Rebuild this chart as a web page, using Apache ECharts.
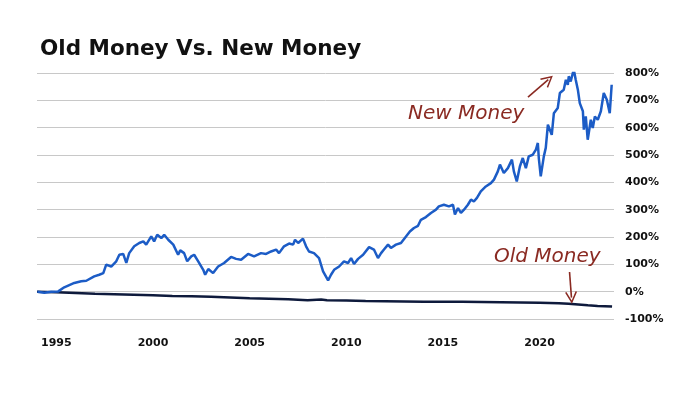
<!DOCTYPE html>
<html><head><meta charset="utf-8">
<script src="https://cdn.jsdelivr.net/npm/echarts@6/dist/echarts.min.js"></script>
<style>html,body{margin:0;padding:0;background:#fff}#c{width:700px;height:393px}</style>
</head><body><div id="c"></div>
<script>
const titleText = 'Old Money Vs. New Money';
const yTicks = [-100,0,100,200,300,400,500,600,700,800];
const xTickYears = [1995,2000,2005,2010,2015,2020];
const newMoneyYears = [1994.02,1994.38,1994.74,1995.10,1995.41,1995.67,1995.93,1996.29,1996.55,1996.65,1996.96,1997.22,1997.43,1997.58,1997.84,1998.10,1998.26,1998.46,1998.62,1998.77,1999.03,1999.29,1999.50,1999.65,1999.91,2000.06,2000.22,2000.43,2000.58,2000.79,2001.05,2001.30,2001.41,2001.61,2001.77,2001.98,2002.13,2002.34,2002.60,2002.70,2002.86,2003.11,2003.37,2003.68,2004.04,2004.30,2004.56,2004.92,2005.23,2005.59,2005.85,2006.11,2006.37,2006.52,2006.78,2007.04,2007.25,2007.35,2007.51,2007.76,2007.92,2008.07,2008.33,2008.59,2008.80,2008.90,2009.06,2009.21,2009.37,2009.63,2009.88,2010.09,2010.25,2010.40,2010.61,2010.87,2011.18,2011.43,2011.64,2011.80,2011.95,2012.16,2012.31,2012.57,2012.83,2013.09,2013.29,2013.50,2013.71,2013.86,2014.12,2014.38,2014.64,2014.79,2015.05,2015.31,2015.52,2015.62,2015.78,2015.93,2016.09,2016.29,2016.45,2016.60,2016.76,2016.96,2017.22,2017.48,2017.64,2017.84,2017.95,2018.15,2018.36,2018.57,2018.67,2018.82,2018.98,2019.13,2019.29,2019.44,2019.65,2019.81,2019.91,2019.96,2020.06,2020.22,2020.32,2020.43,2020.63,2020.74,2020.94,2021.05,2021.25,2021.36,2021.46,2021.51,2021.61,2021.72,2021.77,2021.87,2021.98,2022.08,2022.24,2022.29,2022.39,2022.49,2022.65,2022.75,2022.86,2023.01,2023.17,2023.32,2023.48,2023.63,2023.73];
const newMoneyValues = [0,-4,0,1,16,24,32,38,40,34,56,62,68,99,92,111,135,138,105,141,166,178,184,172,202,184,208,196,208,190,172,135,151,141,111,129,135,111,80,62,83,68,92,105,127,120,117,138,129,141,138,147,154,141,166,176,172,190,178,194,166,147,141,123,74,68,41,62,80,92,111,105,123,101,120,135,163,154,123,141,154,172,160,172,178,202,220,233,241,263,273,288,300,312,318,312,318,282,306,288,300,318,337,330,343,367,385,397,410,440,465,434,452,483,440,403,458,489,452,495,501,520,544,489,422,495,526,611,574,653,672,727,739,775,757,788,769,800,812,775,739,690,660,593,641,556,629,599,641,629,660,727,702,653,757];
const oldMoneyYears = [1994.0,1995,1996,1997,1998,1999,2000,2001,2002,2003,2004,2005,2006,2007,2008,2008.7,2009,2010,2011,2012,2013,2014,2015,2016,2017,2018,2019,2020,2021,2021.5,2022,2022.5,2023,2023.75];
const oldMoneyValues = [0,-2,-5,-8,-9,-11,-13,-16,-17,-19,-21,-24,-26,-28,-31,-29,-31,-32,-34,-35,-36,-37,-37,-37,-38,-39,-40,-41,-42,-44,-47,-50,-52,-54];
const annotations = [
  {text:'New Money', year:2016.2, value:650},
  {text:'Old Money', year:2020.4, value:126}
];
const arrows = [
  [[2019.4,712],[2020.45,776]],
  [[2021.55,72],[2021.65,-22]]
];

const red = '#8a2a22';
const chevron = 'path://M0,12 L6,0 L12,12 L10.6,12.6 L6,3.2 L1.4,12.6 Z';
const labelFont = {fontFamily:'DejaVu Sans',fontWeight:'bold',fontSize:11,color:'#111'};
const chart = echarts.init(document.getElementById('c'));
chart.setOption({
  animation:false,
  backgroundColor:'#fff',
  title:{text:titleText,left:40,top:38,padding:0,textStyle:{fontFamily:'DejaVu Sans',fontWeight:'bold',fontSize:21.5,color:'#111'}},
  grid:{left:37,right:86,top:73,bottom:74},
  xAxis:{type:'value',min:1994,max:2023.85,interval:1,
    axisLine:{show:false},axisTick:{show:false},splitLine:{show:false},
    axisLabel:Object.assign({margin:19,showMinLabel:true,showMaxLabel:false,
      formatter:v=>xTickYears.includes(Math.round(v))?String(Math.round(v)):''},labelFont)},
  yAxis:{type:'value',position:'right',min:yTicks[0],max:yTicks[yTicks.length-1],interval:100,
    axisLine:{show:false},axisTick:{show:false},
    splitLine:{lineStyle:{color:'#c8c8c8',width:1}},
    axisLabel:Object.assign({margin:11,formatter:v=>v+'%'},labelFont)},
  series:[
    {type:'line',name:'Old Money',data:oldMoneyYears.map((y,i)=>[y,oldMoneyValues[i]]),showSymbol:false,
      lineStyle:{color:'#0e1a3c',width:2.5},z:3},
    {type:'line',name:'New Money',data:newMoneyYears.map((y,i)=>[y,newMoneyValues[i]]),showSymbol:false,
      lineStyle:{color:'#1c5cc6',width:2.5},z:4,
      markPoint:{symbol:'circle',symbolSize:1,itemStyle:{color:'rgba(0,0,0,0)'},silent:true,
        label:{show:true,position:'inside',color:red,fontFamily:'DejaVu Sans',fontStyle:'italic',fontSize:20,formatter:p=>p.name},
        data:annotations.map(a=>({name:a.text,coord:[a.year,a.value]}))},
      markLine:{silent:true,symbol:['none',chevron],symbolSize:[12,12],
        lineStyle:{color:red,width:1.6,type:'solid'},label:{show:false},
        data:arrows.map(a=>[{coord:a[0]},{coord:a[1]}])}
    }
  ]
});
</script></body></html>
